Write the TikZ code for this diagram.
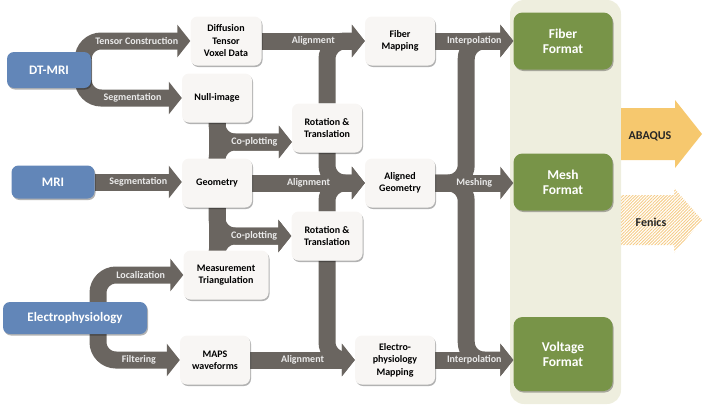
\documentclass[tikz,border=0pt]{standalone}
\usepackage{fontspec}
\setmainfont{Carlito}
\usetikzlibrary{arrows.meta,shadows,patterns.meta}

\definecolor{flowgray}{HTML}{6A6560}
\definecolor{srcblue}{HTML}{6286B8}
\definecolor{outgreen}{HTML}{789448}
\definecolor{boxwhite}{HTML}{F8F6F4}
\definecolor{panelbg}{HTML}{EEEEDE}
\definecolor{abaqusorange}{HTML}{F6C86E}
\definecolor{fenicsorange}{HTML}{F5CC88}

\pgfdeclarelayer{panel}
\pgfdeclarelayer{flows}
\pgfsetlayers{panel,flows,main}

\tikzset{
  boxshadow/.style={drop shadow={shadow xshift=1pt, shadow yshift=-1.5pt, opacity=.3, fill=black}},
  stepbox/.style={fill=boxwhite, rounded corners=7pt, align=center, inner sep=2pt,
    minimum height=49pt, font=\bfseries\fontsize{10}{12.5}\selectfont, boxshadow},
  srcbox/.style={fill=srcblue, text=white, rounded corners=7pt,
    font=\bfseries\fontsize{13}{15}\selectfont, boxshadow},
  outbox/.style={fill=outgreen, text=white, rounded corners=9pt, align=center, minimum width=99pt,
    font=\bfseries\fontsize{13.5}{15}\selectfont, boxshadow},
  flow/.style={draw=flowgray, line width=17pt, rounded corners=18pt, -{Triangle[length=13pt,width=32pt]}},
  flowbar/.style={draw=flowgray, line width=17pt},
  flowlbl/.style={text=white!92!black, inner sep=1pt, font=\bfseries\fontsize{10}{12}\selectfont},
  outlbl/.style={text=black!85, font=\bfseries\fontsize{12}{14}\selectfont}
}

\begin{document}
\begin{tikzpicture}[x=1pt, y=-1pt]
  \useasboundingbox (0,0) rectangle (703,405);

  % Format panel
  \begin{pgfonlayer}{panel}
    \fill[panelbg, rounded corners=14pt] (510,0) rectangle (621,404);
  \end{pgfonlayer}

  % Sources
  \node[srcbox, minimum width=84pt, minimum height=36pt] (dtmri) at (49,70) {DT-MRI};
  \node[srcbox, minimum width=83pt, minimum height=33pt] (mri) at (53,182) {MRI};
  \node[srcbox, minimum width=144pt, minimum height=32pt] (ephys) at (75,318) {Electrophysiology};

  % Processing steps
  \foreach \nm/\x/\y/\w/\txt in {
      diff/226/41/71/{Diffusion\\Tensor\\Voxel Data},
      null/217/98/70/{Null-image},
      geom/217/183/70/{Geometry},
      meas/226/275/85/{Measurement\\Triangulation},
      maps/215/360/70/{MAPS\\waveforms},
      rt1/327/128/70/{Rotation \&\\Translation},
      rt2/327/236/71/{Rotation \&\\Translation},
      fiber/400/41/70/{Fiber\\Mapping},
      algeom/400/183/70/{Aligned\\Geometry},
      epmap/395/360/80/{Electro-\\physiology\\Mapping}} {
    \node[stepbox, minimum width=\w pt] (\nm) at (\x,\y) {\txt};
  }

  % Formats
  \node[outbox, minimum height=57pt] (fibf) at (563,41) {Fiber\\Format};
  \node[outbox, minimum height=57pt] (meshf) at (563,182) {Mesh\\Format};
  \node[outbox, minimum height=74pt] (voltf) at (563,354) {Voltage\\Format};

  % Solvers
  \fill[abaqusorange] (621,108) -- (675,108) -- (675,100) -- (702,134) -- (675,168) -- (675,160) -- (621,160) -- cycle;
  \node[outlbl] (abaqus) at (650,136) {ABAQUS};
  \fill[pattern={Lines[angle=45, distance=2.2pt, line width=0.9pt]}, pattern color=fenicsorange]
    (621,195) -- (674,195) -- (674,188) -- (702,220) -- (674,253) -- (674,245) -- (621,245) -- cycle;
  \node[outlbl] (fenics) at (651,222) {Fenics};

  % Flows
  \begin{pgfonlayer}{flows}
    \draw[flow] ([xshift=-8pt]dtmri.east) |- (diff.west) node[flowlbl, pos=0.75] {Tensor Construction};
    \draw[flow] ([xshift=-8pt]dtmri.east) |- (null.west) node[flowlbl, pos=0.75] {Segmentation};
    \draw[flow] (mri.east) -- (mri.east -| geom.west) node[flowlbl, midway] {Segmentation};
    \draw[flow] ([xshift=23pt]ephys.center) |- (meas.west) node[flowlbl, pos=0.75] {Localization};
    \draw[flow] ([xshift=23pt]ephys.center) |- (maps.west) node[flowlbl, pos=0.75] {Filtering};

    % co-plotting
    \draw[flowbar] (null.south) -- (geom.north);
    \draw[flow] (geom.north) |- ([yshift=-14pt]rt1.west);
    \draw[flow] (null.south) |- ([yshift=-14pt]rt1.west) node[flowlbl, pos=0.75] {Co-plotting};
    \draw[flowbar] (geom.south) -- (geom.south |- meas.north);
    \draw[flow] (geom.south |- meas.north) |- (rt2.west);
    \draw[flow] (geom.south) |- (rt2.west) node[flowlbl, pos=0.75] {Co-plotting};

    % alignment
    \draw[flow] (rt1.north) |- (fiber.west);
    \draw[flow] (diff.east) -- (fiber.west) node[flowlbl, midway] {Alignment};
    \draw[flow] (rt1.south) |- (algeom.west);
    \draw[flow] (rt2.north) |- (algeom.west);
    \draw[flow] (geom.east) -- (algeom.west) node[flowlbl, midway] {Alignment};
    \draw[flow] (rt2.south) |- (epmap.west);
    \draw[flow] (maps.east) -- (epmap.west) node[flowlbl, midway] {Alignment};

    % to formats
    \draw[flow] (algeom.east) -- ++(31,0) |- (fibf.west);
    \draw[flow] (algeom.east) -- ++(31,0) |- (epmap.east -| voltf.west);
    \draw[flow] (fiber.east) -- (fibf.west) node[flowlbl, midway] {Interpolation};
    \draw[flow] (algeom.east) -- (algeom.east -| meshf.west) node[flowlbl, midway] {Meshing};
    \draw[flow] (epmap.east) -- (epmap.east -| voltf.west) node[flowlbl, midway] {Interpolation};
  \end{pgfonlayer}
\end{tikzpicture}
\end{document}
